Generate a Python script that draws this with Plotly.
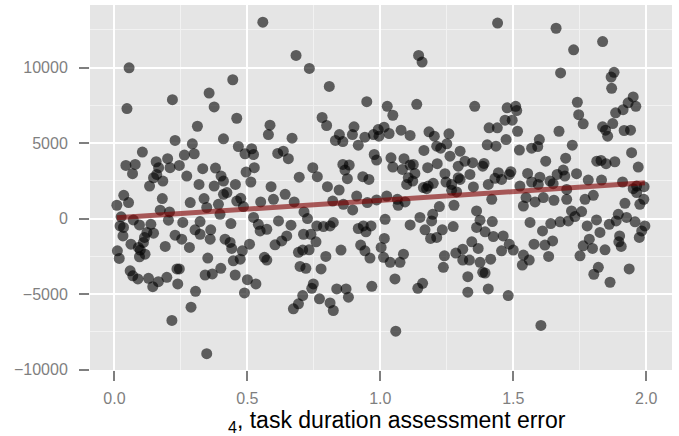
import numpy as np
import plotly.graph_objects as go

# task duration assessment error (x) and outcome (y)
pts = [
# block 1
(0.558,13000),(0.055,9980),(0.047,7280),(0.218,7870),(0.445,9190),(0.356,8310),(0.375,7390),(0.46,6640),
(0.312,6110),(0.585,6180),(0.579,5560),(0.228,5170),(0.41,5280),(0.293,4950),(0.466,4770),(0.105,4400),
(0.3,4290),(0.263,4200),(0.491,4290),(0.516,4620),(0.523,4240),(0.614,4310),(0.635,4460),(0.654,3960),
(0.043,3520),(0.078,3580),(0.068,2970),(0.157,3760),(0.2,3960),(0.166,3370),(0.209,3370),(0.244,3520),
(0.159,2920),(0.147,2700),(0.182,2480),(0.272,2810),(0.332,3300),(0.38,3340),(0.401,2810),(0.41,2480),
(0.318,2260),(0.375,2150),(0.455,2260),(0.495,3080),(0.526,3370),(0.513,2420),(0.589,2110),(0.132,2150),
# block 2
(0.683,10800),(0.733,9940),(0.808,8750),(0.949,7740),(1.144,10800),(1.157,10360),(1.137,7560),(1.026,7430),
(1.047,6840),(1.355,7430),(0.781,6690),(0.798,6160),(0.668,5320),(0.901,6070),(0.846,5560),(0.895,5560),
(0.831,5170),(0.859,5100),(0.917,4860),(0.942,5390),(0.974,5560),(0.992,5890),(1.014,6050),(0.995,5450),
(1.033,5630),(1.078,5850),(1.112,5500),(1.183,5740),(1.203,5450),(1.258,5610),(1.25,4950),(1.212,4790),
(1.227,4660),(1.164,4510),(0.977,4240),(0.986,3870),(1.04,4020),(1.089,3960),(1.124,3580),(1.112,3540),
(1.047,3410),(1.083,3250),(1.13,2990),(1.105,2700),(1.122,2480),(1.178,3370),(1.214,3630),(1.262,4130),
(1.3,4460),(1.318,3800),(1.347,3700),(1.293,3470),(1.243,2970),(1.293,2700),(1.337,2920),(0.746,3370),
(0.763,2770),(0.695,2740),(0.859,3580),(0.883,3540),(0.867,3210),(0.876,2640),(0.934,2770),(0.957,2590),
(0.801,2110),(0.845,1890),(1.18,2150),(1.199,2330),(1.247,2420),(1.268,2260),(1.3,2590),(1.35,2090),
(1.162,2050),(1.099,2260),
# block 3
(1.441,12940),(1.661,12600),(1.836,11720),(1.727,11170),(1.678,9640),(1.879,9680),(1.868,9370),(1.87,8620),
(1.477,7330),(1.509,7430),(1.513,7150),(1.741,7700),(1.746,6880),(1.763,6270),(1.469,6510),(1.496,6510),
(1.409,6010),(1.44,6010),(1.516,5780),(1.473,5230),(1.402,4880),(1.435,4790),(1.523,4530),(1.569,4660),
(1.592,4770),(1.598,5230),(1.672,5780),(1.722,4860),(1.697,4000),(1.622,3800),(1.836,6070),(1.847,5850),
(1.855,5450),(1.874,6290),(1.885,7000),(1.913,7210),(1.932,7660),(1.951,8050),(1.961,7430),(1.917,5830),
(1.941,5850),(1.945,4360),(1.97,3410),(1.814,3800),(1.83,3850),(1.849,3630),(1.882,3760),(1.39,3650),
(1.385,3470),(1.444,3040),(1.491,3100),(1.431,2660),(1.456,2590),(1.485,2920),(1.554,2990),(1.6,2740),
(1.638,2480),(1.665,2920),(1.688,3210),(1.694,2810),(1.738,2970),(1.782,2550),(1.832,2550),(1.911,2420),
(1.964,2150),(1.992,2110),(1.525,2150),(1.569,2420),(1.65,2310),
# block 4
(0.035,1540),(0.009,880),(0.053,1060),(0.18,1320),(0.172,550),(0.207,440),(0.285,1060),(0.337,1320),
(0.347,730),(0.391,940),(0.46,1160),(0.475,1340),(0.485,790),(0.423,1720),(0.55,1100),(0.598,1270),
(0.642,1600),(0.203,-110),(0.257,-260),(0.322,-200),(0.397,280),(0.438,-330),(0.523,70),(0.025,110),
(0.071,-90),(0.021,-490),(0.034,-590),(0.094,-420),(0.137,-380),(0.032,-1150),(0.062,-1700),(0.113,-1250),
(0.147,-970),(0.122,-920),(0.109,-1580),(0.09,-1910),(0.097,-2090),(0.115,-2360),(0.094,-2530),(0.011,-2140),
(0.018,-2640),(0.191,-1850),(0.228,-1100),(0.253,-1370),(0.282,-1910),(0.303,-750),(0.322,-1040),(0.362,-750),
(0.36,-1370),(0.416,-1370),(0.435,-1580),(0.441,-1980),(0.481,-2140),(0.508,-1700),(0.447,-2800),(0.473,-2690),
(0.351,-2620),(0.564,-2570),(0.573,-2750),(0.541,-380),(0.573,-710),(0.548,-820),(0.617,-160),(0.629,-1480),
(0.648,-1150),(0.604,-1740),(0.059,-3460),(0.069,-3790),(0.088,-4000),(0.128,-3960),(0.144,-4510),(0.165,-4180),
(0.197,-3890),(0.235,-3340),(0.244,-3340),(0.238,-4330),(0.305,-4820),(0.341,-3740),(0.368,-3670),(0.4,-3300),
(0.454,-3740),(0.5,-4050),(0.532,-4330),(0.489,-4930),(0.288,-5870),(0.216,-6750),(0.347,-8950),(0.41,1600),
# block 5
(0.676,1100),(0.713,440),(0.726,0),(0.821,1160),(0.861,940),(0.896,570),(0.911,1490),(0.951,1060),
(0.986,1230),(1.024,1490),(1.067,880),(1.093,1100),(1.064,1270),(1.174,1980),(1.268,1870),(1.287,1760),
(1.222,790),(1.277,880),(1.197,280),(1.149,70),(1.193,-160),(1.112,-420),(1.018,-50),(0.664,-440),
(0.761,-490),(0.786,-530),(0.823,-260),(0.917,-660),(0.936,-490),(0.965,-490),(0.946,-880),(0.711,-1040),
(0.739,-1040),(0.758,-1540),(0.732,-2070),(0.692,-2240),(0.708,-2090),(0.795,-2510),(0.852,-2090),(0.926,-1760),
(0.942,-2140),(0.961,-2620),(1.015,-1320),(1.003,-1910),(1.012,-2570),(1.037,-2900),(1.074,-2900),(1.087,-2360),
(1.168,-750),(1.189,-1320),(1.212,-1250),(1.233,-750),(1.274,-530),(1.362,500),(1.362,-590),(1.344,-1540),
(1.31,-2030),(1.284,-2290),(1.241,-2470),(1.237,-3230),(1.31,-2750),(1.335,-2750),(1.329,-3850),(1.329,-4880),
(1.055,-4000),(1.141,-4620),(1.159,-4290),(0.968,-4490),(0.836,-4660),(0.871,-4660),(0.88,-5210),(0.777,-3340),
(0.698,-3170),(0.72,-3300),(0.748,-4330),(0.742,-4620),(0.708,-5100),(0.692,-5650),(0.673,-5980),(0.771,-5320),
(0.811,-5590),(0.823,-6090),(1.058,-7460),(0.811,-490),
# block 6
(1.594,2260),(1.701,1930),(1.951,1980),(1.964,1720),(1.991,1270),(1.976,940),(1.92,1010),(1.801,1540),
(1.77,1270),(1.701,1270),(1.653,1210),(1.613,1390),(1.582,1100),(1.548,1390),(1.538,830),(1.419,1270),
(1.375,-110),(1.421,-200),(1.394,-880),(1.425,-1190),(1.462,-1150),(1.368,-1980),(1.456,-2140),(1.485,-1700),
(1.5,-2090),(1.415,-2690),(1.375,-2900),(1.394,-3610),(1.385,-3560),(1.406,-4660),(1.481,-5100),(1.563,-260),
(1.61,-820),(1.641,-330),(1.676,-220),(1.707,-160),(1.719,500),(1.732,130),(1.757,460),(1.778,-490),
(1.813,-90),(1.826,-920),(1.861,-380),(1.895,280),(1.926,70),(1.958,-220),(1.995,-490),(1.983,-820),
(1.974,-1250),(1.887,-160),(1.9,-1150),(1.897,-1540),(1.906,-1850),(1.786,-1370),(1.763,-1810),(1.798,-1980),
(1.845,-2070),(1.751,-2470),(1.82,-3230),(1.803,-3690),(1.864,-4220),(1.936,-3340),(1.648,-1480),(1.619,-1760),
(1.578,-1700),(1.538,-2420),(1.56,-2750),(1.534,-3080),(1.633,-2510),(1.604,-7080),(1.406,2260),
]
error_x = [p[0] for p in pts]
outcome_y = [p[1] for p in pts]

# linear fit
fit_intercept = 40
fit_slope = 1165

x_ticks = [0.0, 0.5, 1.0, 1.5, 2.0]
x_ticktext = ["0.0", "0.5", "1.0", "1.5", "2.0"]
y_ticks = [-10000, -5000, 0, 5000, 10000]
y_ticktext = ["\u221210000", "\u22125000", "0", "5000", "10000"]
x_title = "<sub>4</sub>, task duration assessment error"

X_RANGE = [-0.092, 2.097]
Y_RANGE = [-10030, 14140]

FONT = "Liberation Sans, Arial, Helvetica, sans-serif"
GREY = "#7F7F7F"
CLEAR = "rgba(0,0,0,0)"

fig = go.Figure()
fig.add_trace(go.Scatter(
    x=error_x, y=outcome_y, mode="markers",
    marker=dict(size=11, color="rgba(0,0,0,0.6)", line=dict(width=0)),
    hoverinfo="skip", showlegend=False))

# fitted line drawn on the overlaid label axes (identical ranges)
lx = np.array([min(error_x), max(error_x)])
fig.add_trace(go.Scatter(
    x=lx, y=fit_intercept + fit_slope * lx, mode="lines",
    xaxis="x2", yaxis="y2",
    line=dict(color="rgba(128,0,0,0.62)", width=5),
    hoverinfo="skip", showlegend=False))

tick_axis = dict(
    showline=False, zeroline=False, ticks="outside", ticklen=10, tickwidth=2,
    tickcolor=GREY, showticklabels=False,
    showgrid=True, gridcolor="white", gridwidth=2,
)
label_axis = dict(
    showline=False, zeroline=False, showgrid=False, ticks="outside", tickwidth=1,
    tickcolor=CLEAR, tickfont=dict(family=FONT, size=16, color=GREY),
)
fig.update_layout(
    width=679, height=436,
    margin=dict(l=90, r=7, t=5, b=66),
    paper_bgcolor="white", plot_bgcolor="#E5E5E5",
    font=dict(family=FONT),
    xaxis=dict(range=X_RANGE, tickvals=x_ticks,
               minor=dict(dtick=0.25, tick0=0, showgrid=True, gridcolor="#F2F2F2", gridwidth=1, ticks=""),
               **tick_axis),
    yaxis=dict(range=Y_RANGE, tickvals=y_ticks,
               minor=dict(dtick=2500, tick0=0, showgrid=True, gridcolor="#F2F2F2", gridwidth=1, ticks=""),
               **tick_axis),
    xaxis2=dict(range=X_RANGE, tickvals=x_ticks, ticktext=x_ticktext, overlaying="x",
                anchor="y", side="bottom", ticklen=14, **label_axis),
    yaxis2=dict(range=Y_RANGE, tickvals=y_ticks, ticktext=y_ticktext, overlaying="y",
                anchor="x", side="left", ticklen=18, **label_axis),
    annotations=[dict(text=x_title, xref="paper", yref="paper", x=0.527, y=-0.142,
                      xanchor="center", yanchor="middle", showarrow=False,
                      font=dict(family=FONT, size=23, color="black"))],
)
fig.write_html("out.html")
